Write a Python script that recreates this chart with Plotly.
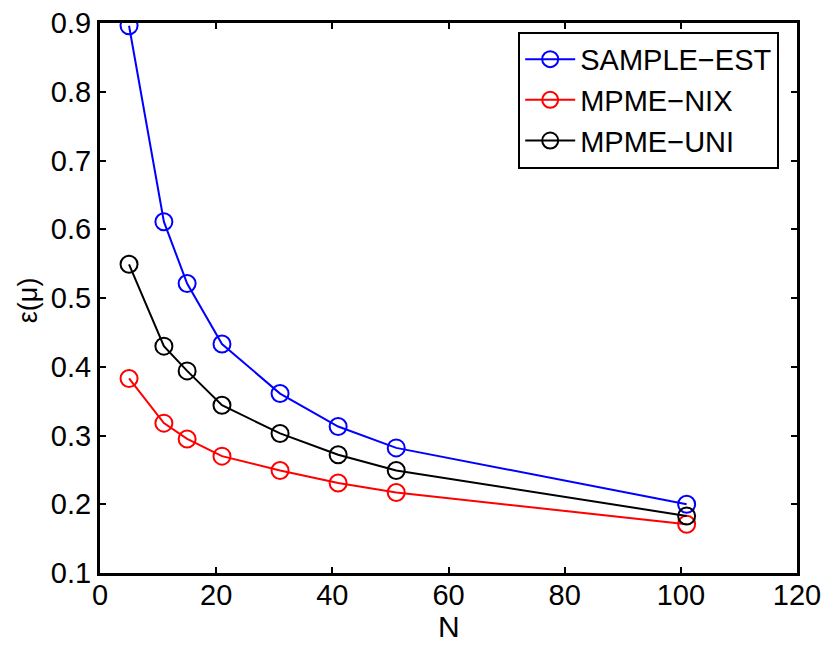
import plotly.graph_objects as go

N = [5, 11, 15, 21, 31, 41, 51, 101]
sample_est = [0.896, 0.611, 0.521, 0.433, 0.361, 0.313, 0.282, 0.200]
mpme_nix = [0.383, 0.318, 0.295, 0.270, 0.249, 0.231, 0.217, 0.171]
mpme_uni = [0.549, 0.430, 0.394, 0.344, 0.303, 0.272, 0.249, 0.183]

x_ticks = [0, 20, 40, 60, 80, 100, 120]
y_ticks = [0.1, 0.2, 0.3, 0.4, 0.5, 0.6, 0.7, 0.8, 0.9]

series = [
    ("SAMPLE−EST", sample_est, "#0000ff"),
    ("MPME−NIX", mpme_nix, "#ff0000"),
    ("MPME−UNI", mpme_uni, "#000000"),
]

FONT = "Liberation Sans, Arial, Helvetica, sans-serif"

fig = go.Figure()
for name, vals, col in series:
    fig.add_trace(go.Scatter(
        x=N, y=vals, name=name, mode="lines+markers",
        line=dict(color=col, width=2),
        marker=dict(symbol="circle-open", size=17, color=col, line=dict(width=2, color=col)),
    ))

axis_common = dict(
    showline=True, linecolor="black", linewidth=3, mirror="ticks",
    ticks="inside", ticklen=6, tickwidth=2, tickcolor="black",
    showgrid=False, zeroline=False, ticklabeloverflow="allow",
    tickfont=dict(family=FONT, size=29, color="black"),
)

fig.update_layout(
    width=822, height=640,
    margin=dict(l=92, r=33, t=15, b=75, autoexpand=False),
    paper_bgcolor="white", plot_bgcolor="white",
    font=dict(family=FONT, color="black"),
    xaxis=dict(range=[0, 120], tickvals=x_ticks, ticklabelstandoff=-6, **axis_common),
    yaxis=dict(range=[0.1, 0.9], tickvals=y_ticks, tickformat=".1f", **axis_common),
    legend=dict(
        x=0.600, y=0.984, xanchor="left", yanchor="top",
        bgcolor="white", bordercolor="black", borderwidth=2,
        font=dict(family=FONT, size=29, color="black"),
        itemwidth=50, tracegroupgap=0,
    ),
    showlegend=True,
    annotations=[
        dict(text="N", xref="paper", yref="paper", x=0.5, y=-0.0964,
             xanchor="center", yanchor="middle", showarrow=False,
             font=dict(family=FONT, size=30, color="black")),
        dict(text="ε(μ)", xref="paper", yref="paper", x=-0.1033, y=0.496,
             xanchor="center", yanchor="middle", showarrow=False, textangle=-90,
             font=dict(family=FONT, size=27, color="black")),
    ],
)

fig.write_html("out.html")
